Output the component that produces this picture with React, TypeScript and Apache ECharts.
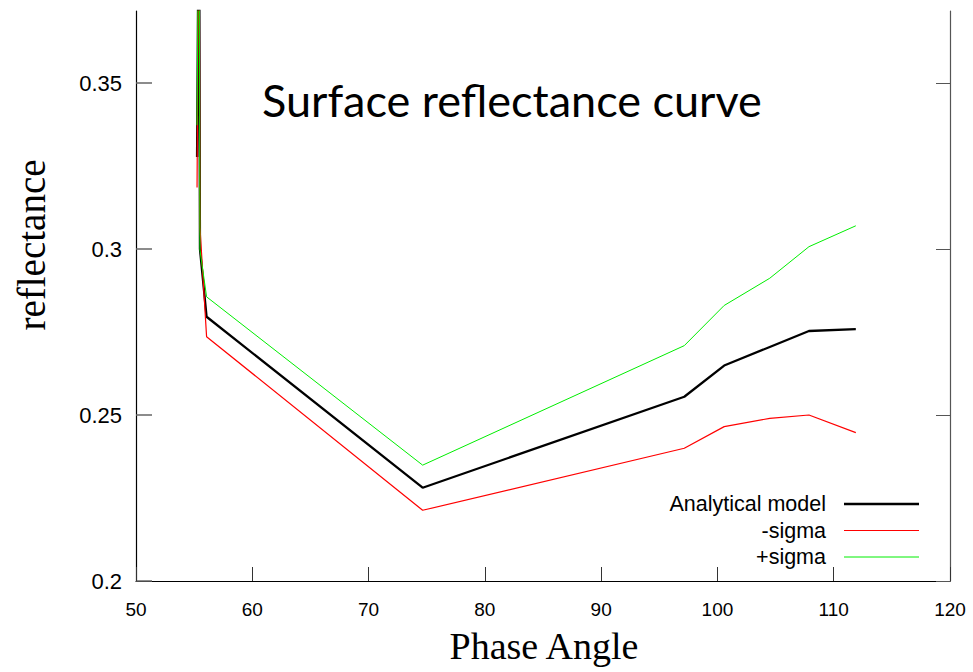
import React, { useEffect, useRef } from "react";
import * as echarts from "echarts";

const phaseAngle = [55.25, 55.42, 55.5, 56.07, 74.65, 97.15, 100.58, 104.5, 107.87, 111.9];
const analytical = [0.3277, 0.42, 0.3, 0.2796, 0.2281, 0.2555, 0.2649, 0.2705, 0.2753, 0.2759];
const minusSigma = [0.3185, 0.42, 0.3066, 0.2736, 0.2213, 0.24, 0.2465, 0.249, 0.25, 0.2447];
const plusSigma = [0.3373, 0.42, 0.2997, 0.2856, 0.2349, 0.2709, 0.283, 0.2912, 0.3007, 0.307];
const yTicks = [0.2, 0.25, 0.3, 0.35];
const seriesNames = ["Analytical model", "-sigma", "+sigma"];
const seriesColors = ["#000000", "#ff0000", "#00ee00"];
const seriesWidths = [2.3, 1.2, 1];
const seriesValues = [analytical, minusSigma, plusSigma];

export default function App() {
  const ref = useRef<HTMLDivElement>(null);
  useEffect(() => {
    if (!ref.current) return;
    const chart = echarts.init(ref.current, undefined, { renderer: "svg" });
    const legendTop = 504;
    const legendGap = 26.5;
    const legendGraphics: any[] = [];
    seriesNames.forEach((n, i) => {
      const y = legendTop + i * legendGap;
      legendGraphics.push({
        type: "text",
        x: 826,
        y,
        style: {
          text: n,
          align: "right",
          verticalAlign: "middle",
          fontFamily: "Liberation Sans",
          fontSize: 21.5,
          fill: "#000",
        },
      });
      legendGraphics.push({
        type: "line",
        shape: { x1: 844, y1: y, x2: 919, y2: y },
        style: { stroke: seriesColors[i], lineWidth: seriesWidths[i] },
      });
    });
    chart.setOption({
      animation: false,
      backgroundColor: "#ffffff",
      grid: { left: 136, right: 23, top: 11, bottom: 91, outerBoundsMode: "none" },
      xAxis: {
        type: "value",
        min: 50,
        max: 120,
        interval: 10,
        axisLine: { show: true, onZero: false, lineStyle: { color: "#000", width: 1.2 } },
        axisTick: { show: true, inside: true, length: 14, lineStyle: { color: "#333" } },
        axisLabel: { margin: 19, fontSize: 19, fontFamily: "Liberation Sans", color: "#000" },
        splitLine: { show: false },
      },
      yAxis: [
        {
          type: "value",
          min: 0.2,
          max: 0.3717,
          axisLine: { show: true, onZero: false, lineStyle: { color: "#000", width: 1.2 } },
          axisTick: { show: true, inside: true, length: 16, customValues: yTicks, lineStyle: { color: "#666", width: 1.5 } },
          axisLabel: { margin: 14, fontSize: 22, fontFamily: "Liberation Sans", color: "#000", customValues: yTicks },
          splitLine: { show: false },
        },
        {
          type: "value",
          position: "right",
          min: 0.2,
          max: 0.3717,
          axisLine: { show: true, onZero: false, lineStyle: { color: "#555", width: 1.2 } },
          axisTick: { show: true, inside: true, length: 14, customValues: yTicks, lineStyle: { color: "#555" } },
          axisLabel: { show: false },
          splitLine: { show: false },
        },
      ],
      series: seriesNames.map((n, i) => ({
        name: n,
        type: "line",
        data: phaseAngle.map((x, j) => [x, seriesValues[i][j]]),
        showSymbol: false,
        clip: true,
        lineStyle: { color: seriesColors[i], width: seriesWidths[i] },
        itemStyle: { color: seriesColors[i] },
        z: 2 + i,
      })),
      graphic: [
        {
          type: "text",
          x: 262,
          y: 100,
          style: {
            text: "Surface reflectance curve",
            align: "left",
            verticalAlign: "middle",
            fontFamily: "Lato",
            fontSize: 45,
            fill: "#000",
          },
        },
        {
          type: "text",
          x: 544,
          y: 646,
          style: {
            text: "Phase Angle",
            align: "center",
            verticalAlign: "middle",
            fontFamily: "Liberation Serif",
            fontSize: 38,
            fill: "#000",
          },
        },
        {
          type: "text",
          x: 31,
          y: 245,
          rotation: Math.PI / 2,
          style: {
            text: "reflectance",
            align: "center",
            verticalAlign: "middle",
            fontFamily: "Liberation Serif",
            fontSize: 39,
            fill: "#000",
          },
        },
        ...legendGraphics,
      ],
    });
    return () => chart.dispose();
  }, []);
  return (
    <div
      ref={ref}
      style={{ position: "fixed", left: 0, top: 0, width: 973, height: 672 }}
    />
  );
}
